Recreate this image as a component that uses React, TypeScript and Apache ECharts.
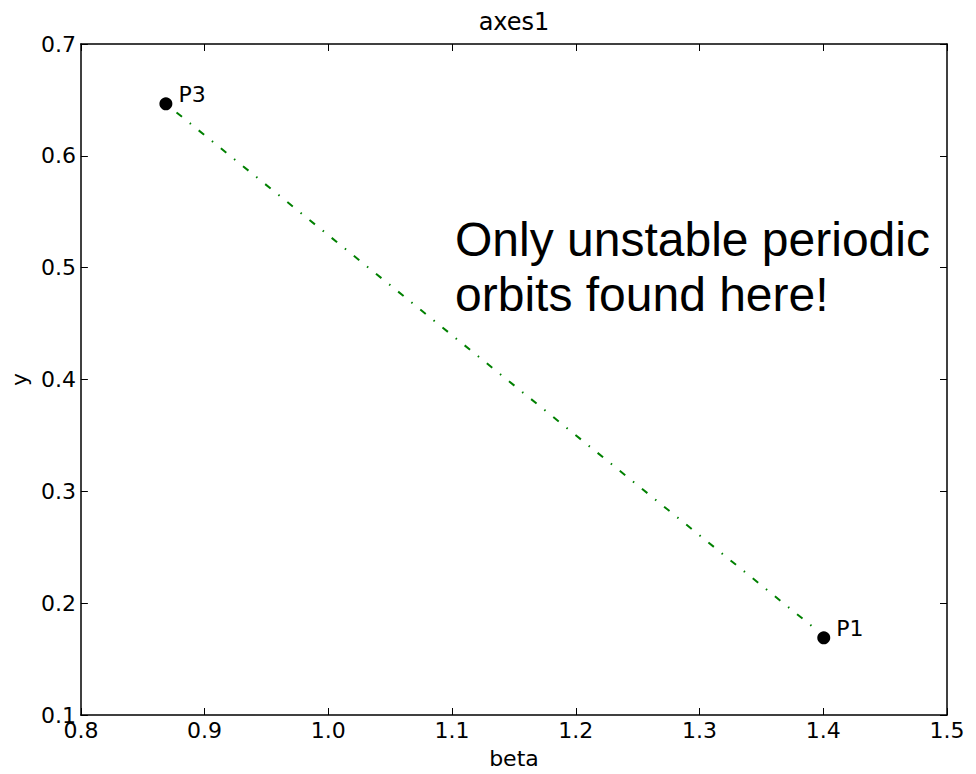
import React, { useEffect, useRef } from "react";
import * as echarts from "echarts";

const pointNames = ["P3", "P1"];
const pointX = [0.8687, 1.4004];
const pointY = [0.6465, 0.169];
const lineX = [0.8773, 1.3913];
const lineY = [0.6388, 0.179];
const xTicks = [0.8, 0.9, 1.0, 1.1, 1.2, 1.3, 1.4, 1.5];
const yTicks = [0.1, 0.2, 0.3, 0.4, 0.5, 0.6, 0.7];
const annotation = ["Only unstable periodic", "orbits found here!"];

const TICK_FONT = "DejaVu Sans";

export default function App() {
  const ref = useRef<HTMLDivElement>(null);
  useEffect(() => {
    if (!ref.current) return;
    const chart = echarts.init(ref.current, undefined, { renderer: "svg" });
    const axisCommon = {
      type: "value" as const,
      axisLine: { show: true, onZero: false, lineStyle: { color: "#000", width: 1.5 } },
      axisTick: { show: true, inside: true, length: 7, lineStyle: { color: "#000", width: 1 } },
      splitLine: { show: false },
    };
    const labelStyle = {
      color: "#000",
      fontFamily: TICK_FONT,
      fontSize: 22,
      formatter: (v: number) => v.toFixed(1),
    };
    chart.setOption({
      animation: false,
      backgroundColor: "#fff",
      grid: { left: 78, top: 44, right: 29, bottom: 54, containLabel: false },
      xAxis: [
        {
          ...axisCommon,
          position: "bottom",
          min: xTicks[0],
          max: xTicks[xTicks.length - 1],
          interval: 0.1,
          axisLabel: { ...labelStyle, margin: 4 },
          name: "beta",
          nameLocation: "middle",
          nameGap: 32,
          nameTextStyle: { color: "#000", fontFamily: TICK_FONT, fontSize: 22, verticalAlign: "top" },
        },
        {
          ...axisCommon,
          position: "top",
          min: xTicks[0],
          max: xTicks[xTicks.length - 1],
          interval: 0.1,
          axisLabel: { show: false },
        },
      ],
      yAxis: [
        {
          ...axisCommon,
          position: "left",
          min: yTicks[0],
          max: yTicks[yTicks.length - 1],
          interval: 0.1,
          axisLabel: { ...labelStyle, margin: 5 },
          name: "y",
          nameLocation: "middle",
          nameRotate: 90,
          nameGap: 46,
          nameTextStyle: { color: "#000", fontFamily: TICK_FONT, fontSize: 22 },
        },
        {
          ...axisCommon,
          position: "right",
          min: yTicks[0],
          max: yTicks[yTicks.length - 1],
          interval: 0.1,
          axisLabel: { show: false },
        },
      ],
      series: [
        {
          type: "line",
          data: lineX.map((x, i) => [x, lineY[i]]),
          showSymbol: false,
          symbol: "none",
          lineStyle: { color: "#008000", width: 2, type: [7, 10, 1.5, 10], cap: "butt", opacity: 1 },
          z: 2,
        },
        {
          type: "scatter",
          data: pointX.map((x, i) => ({ value: [x, pointY[i]], name: pointNames[i] })),
          symbol: "circle",
          symbolSize: 13,
          itemStyle: { color: "#000", opacity: 1 },
          label: {
            show: true,
            position: "right",
            distance: 6,
            offset: [0, -9],
            formatter: (p: any) => p.name,
            color: "#000",
            opacity: 1,
            fontFamily: TICK_FONT,
            fontSize: 22,
          },
          z: 3,
        },
      ],
      graphic: [
        {
          type: "text",
          x: 514,
          y: 22,
          style: {
            text: "axes1",
            fill: "#000",
            font: `24px "${TICK_FONT}"`,
            textAlign: "center",
            textVerticalAlign: "middle",
          },
        },
        {
          type: "text",
          x: 455,
          y: 212,
          style: {
            text: annotation.join("\n"),
            fill: "#000",
            font: `48px "Liberation Sans"`,
            lineHeight: 55,
            textAlign: "left",
            textVerticalAlign: "top",
          },
        },
      ],
    });
    return () => chart.dispose();
  }, []);
  return (
    <div
      ref={ref}
      style={{ position: "absolute", left: 0, top: 0, width: 976, height: 774 }}
    />
  );
}
